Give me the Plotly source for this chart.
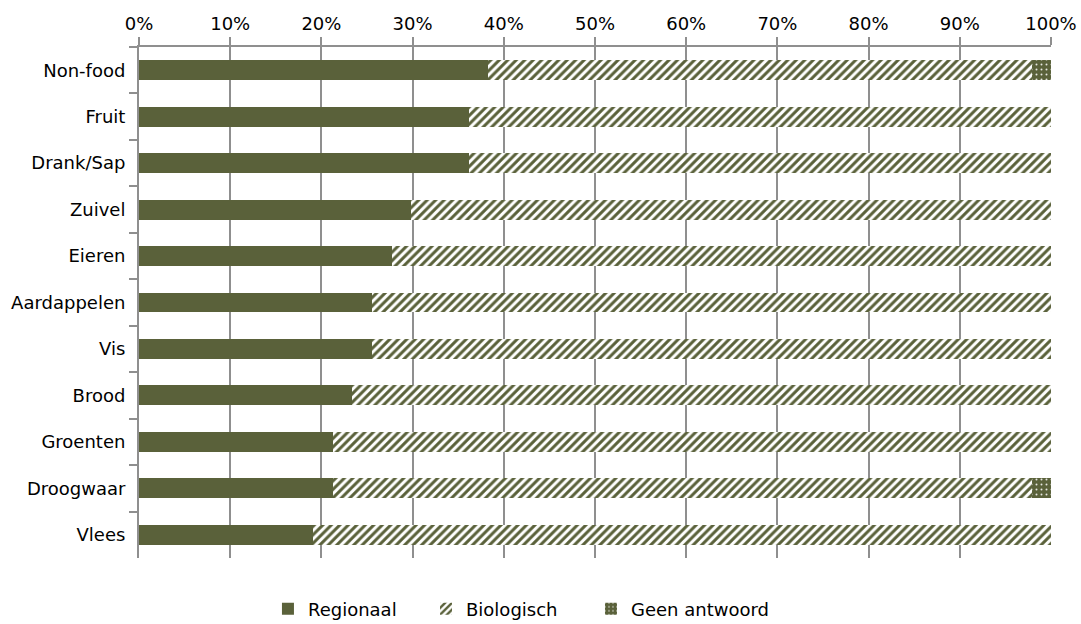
import plotly.graph_objects as go

categories = ["Non-food", "Fruit", "Drank/Sap", "Zuivel", "Eieren", "Aardappelen",
              "Vis", "Brood", "Groenten", "Droogwaar", "Vlees"]
regionaal = [38.3, 36.2, 36.2, 29.8, 27.7, 25.5, 25.5, 23.4, 21.3, 21.3, 19.1]
biologisch = [59.6, 63.8, 63.8, 70.2, 72.3, 74.5, 74.5, 76.6, 78.7, 76.6, 80.9]
geen_antwoord = [2.1, 0, 0, 0, 0, 0, 0, 0, 0, 2.1, 0]
tick_values = list(range(0, 101, 10))
tick_labels = [f"{v}%" for v in tick_values]

OLIVE = "#5a613a"
GRID = "#8f8f8f"
FONT = "DejaVu Sans"

fig = go.Figure()
fig.add_trace(go.Bar(
    name="Regionaal", y=categories, x=regionaal, orientation="h",
    marker=dict(color=OLIVE, line=dict(width=0)),
    legend="legend",
))
fig.add_trace(go.Bar(
    name="Biologisch", y=categories, x=biologisch, orientation="h",
    marker=dict(color="white", line=dict(width=0),
                pattern=dict(shape="/", fgcolor=OLIVE, fgopacity=1, bgcolor="white",
                             size=6, solidity=0.5, fillmode="overlay")),
    legend="legend2",
))
fig.add_trace(go.Bar(
    name="Geen antwoord", y=categories, x=geen_antwoord, orientation="h",
    marker=dict(color=OLIVE, line=dict(width=0),
                pattern=dict(shape=".", fgcolor="white", fgopacity=0.85, bgcolor=OLIVE,
                             size=5, solidity=0.12, fillmode="replace")),
    legend="legend3",
))

legend_common = dict(orientation="h", xanchor="left", y=-0.1, yanchor="middle",
                     font=dict(family=FONT, size=18), itemwidth=30,
                     bgcolor="rgba(0,0,0,0)")

fig.update_layout(
    barmode="stack",
    bargap=0.57,
    width=1081, height=624,
    margin=dict(l=139, r=30, t=47, b=66, autoexpand=False),
    paper_bgcolor="white", plot_bgcolor="white",
    font=dict(family=FONT, size=18, color="#000000"),
    showlegend=True,
    legend=dict(x=0.1414, **legend_common),
    legend2=dict(x=0.3147, **legend_common),
    legend3=dict(x=0.4956, **legend_common),
    xaxis=dict(
        side="top", range=[0, 100], tickmode="array",
        tickvals=tick_values, ticktext=tick_labels,
        showgrid=True, gridcolor=GRID, gridwidth=1.5,
        showline=True, linecolor=GRID, linewidth=2,
        ticks="outside", ticklen=8, tickcolor=GRID, tickwidth=2,
        zeroline=False, fixedrange=True,
    ),
    yaxis=dict(
        autorange="reversed", showgrid=False,
        showline=True, linecolor=GRID, linewidth=2,
        ticks="outside", ticklen=8, tickcolor=GRID, tickwidth=2,
        tickson="boundaries", ticklabelstandoff=8,
    ),
)

fig.write_html("out.html")
